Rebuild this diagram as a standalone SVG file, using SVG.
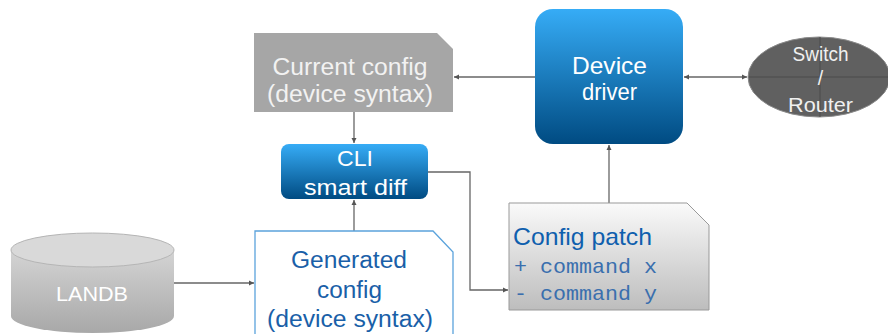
<svg xmlns="http://www.w3.org/2000/svg" width="888" height="334" viewBox="0 0 888 334">
<defs>
<linearGradient id="blue" x1="0" y1="0" x2="0" y2="1"><stop offset="0" stop-color="#36acf6"/><stop offset="1" stop-color="#004b82"/></linearGradient>
<linearGradient id="patch" x1="0" y1="0" x2="0" y2="1"><stop offset="0" stop-color="#fafafa"/><stop offset="1" stop-color="#bdbdbd"/></linearGradient>
<linearGradient id="cyl" x1="0" y1="0" x2="0" y2="1"><stop offset="0" stop-color="#d4d4d4"/><stop offset="1" stop-color="#a8a8a8"/></linearGradient>
<marker id="ah" markerWidth="6" markerHeight="6" refX="5" refY="3" orient="auto-start-reverse" markerUnits="userSpaceOnUse"><path d="M0,0.5 L5,3 L0,5.5 Z" fill="#555"/></marker>
<style>
.t{font-family:"Liberation Sans",Arial,sans-serif;text-anchor:middle}
.m{font-family:"Liberation Mono","Courier New",monospace}
.c{fill:none;stroke:#666;stroke-width:1.3}
</style>
</defs>
<g id="connectors">
<path class="c" d="M535,77 H454" marker-end="url(#ah)"/>
<path class="c" d="M684,77 H747" marker-start="url(#ah)" marker-end="url(#ah)"/>
<path class="c" d="M354,112 V143" marker-end="url(#ah)"/>
<path class="c" d="M354,231 V200" marker-end="url(#ah)"/>
<path class="c" d="M428,172 H470 V290 H508" marker-end="url(#ah)"/>
<path class="c" d="M609,203 V145" marker-end="url(#ah)"/>
<path class="c" d="M174,283 H254" marker-end="url(#ah)"/>
</g>
<g id="current-config">
<path d="M254,33 H437 L453,49 V112 H254 Z" fill="#a6a6a6"/>
<text class="t" x="350" y="75" font-size="23.5" fill="#f2f2f2" textLength="155" lengthAdjust="spacingAndGlyphs">Current config</text>
<text class="t" x="350" y="102" font-size="23.5" fill="#f2f2f2" textLength="166" lengthAdjust="spacingAndGlyphs">(device syntax)</text>
</g>
<g id="device-driver">
<rect x="535" y="9" width="148" height="135" rx="18" fill="url(#blue)"/>
<text class="t" x="609.5" y="74" font-size="24" fill="#fff" textLength="75" lengthAdjust="spacingAndGlyphs">Device</text>
<text class="t" x="609.5" y="100" font-size="24" fill="#fff" textLength="55" lengthAdjust="spacingAndGlyphs">driver</text>
</g>
<g id="switch-router">
<ellipse cx="819" cy="77" rx="71" ry="40" fill="#606060" stroke="#8a8a8a" stroke-width="1"/>
<path d="M749,77 H888 M820,37 V117" stroke="#4a4a4a" stroke-width="1" fill="none"/>
<text class="t" x="820.5" y="61" font-size="19.5" fill="#f0f0f0" textLength="56" lengthAdjust="spacingAndGlyphs">Switch</text>
<text class="t" x="820.5" y="85" font-size="19.5" fill="#f0f0f0">/</text>
<text class="t" x="820.5" y="112" font-size="20" fill="#f0f0f0" textLength="65" lengthAdjust="spacingAndGlyphs">Router</text>
</g>
<g id="cli-smart-diff">
<rect x="281" y="144" width="147" height="55" rx="8" fill="url(#blue)"/>
<text class="t" x="355" y="166" font-size="22" fill="#fff" textLength="36" lengthAdjust="spacingAndGlyphs">CLI</text>
<text class="t" x="355.5" y="195" font-size="22" fill="#fff" textLength="103" lengthAdjust="spacingAndGlyphs">smart diff</text>
</g>
<g id="config-patch">
<path d="M509,203 H687 L709,225 V310 H509 Z" fill="url(#patch)" stroke="#999" stroke-width="1"/>
<text x="513" y="245" font-family="Liberation Sans,Arial,sans-serif" font-size="24" fill="#0f5fae" textLength="139" lengthAdjust="spacingAndGlyphs">Config patch</text>
<text class="m" x="514" y="273" font-size="21" fill="#3a6fae" xml:space="preserve" textLength="143" lengthAdjust="spacingAndGlyphs">+ command x</text>
<text class="m" x="514" y="300" font-size="21" fill="#3a6fae" xml:space="preserve" textLength="143" lengthAdjust="spacingAndGlyphs">- command y</text>
</g>
<g id="generated-config">
<path d="M255,231 H433 L453,252 V340 H255 Z" fill="#fff" stroke="#5ba3dc" stroke-width="1.3"/>
<text class="t" x="349" y="268" font-size="23.5" fill="#1a5fa8" textLength="116" lengthAdjust="spacingAndGlyphs">Generated</text>
<text class="t" x="349.5" y="298" font-size="23.5" fill="#1a5fa8" textLength="65" lengthAdjust="spacingAndGlyphs">config</text>
<text class="t" x="350" y="327" font-size="23.5" fill="#1a5fa8" textLength="166" lengthAdjust="spacingAndGlyphs">(device syntax)</text>
</g>
<g id="landb">
<path d="M11,250 V316 A81.5,17 0 0 0 174,316 V250 Z" fill="url(#cyl)"/>
<ellipse cx="92.5" cy="250" rx="81.5" ry="17" fill="#d9d9d9" stroke="#b5b5b5" stroke-width="1"/>
<text class="t" x="92" y="301" font-size="21" fill="#fff" textLength="72" lengthAdjust="spacingAndGlyphs">LANDB</text>
</g>
</svg>
